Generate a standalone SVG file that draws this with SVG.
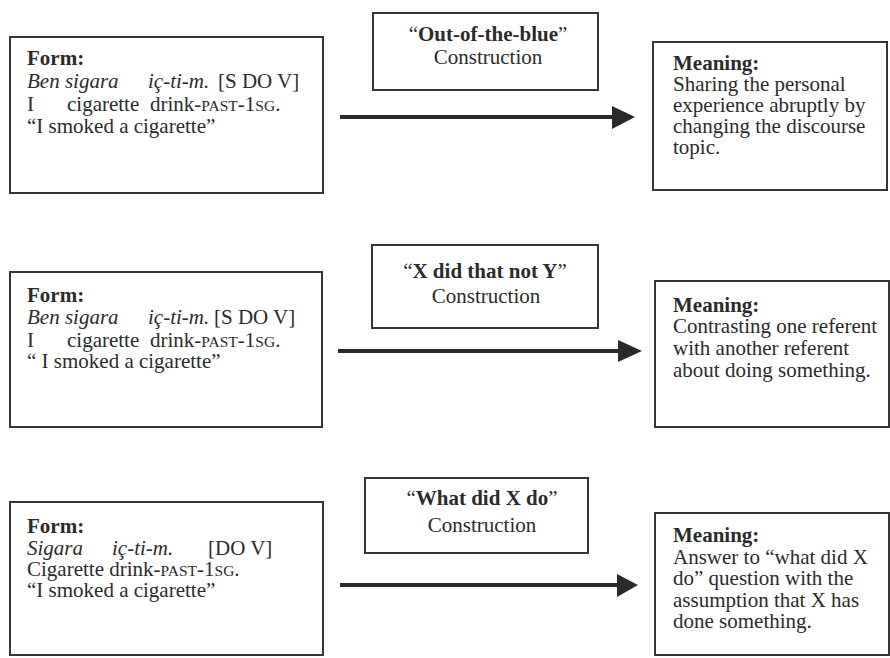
<svg xmlns="http://www.w3.org/2000/svg" width="890" height="658" viewBox="0 0 890 658">
  <style>
    .box { fill: #ffffff; stroke: #363636; stroke-width: 2; }
    text { font-family: "Liberation Serif", "Times New Roman", serif; font-size: 21px; fill: #2b2b2b; }
    .b { font-weight: bold; }
    .i { font-style: italic; }
    .sc { font-size: 15.5px; }
    .mid { text-anchor: middle; }
    .conn line { stroke: #2a2a2a; stroke-width: 4; }
    .conn polygon { fill: #2a2a2a; }
  </style>
  <rect width="890" height="658" fill="#ffffff"/>

  <!-- Row 1: Out-of-the-blue construction -->
  <g id="form1">
    <rect class="box" x="10" y="37" width="313" height="156"/>
    <text x="27" y="65" class="b">Form:</text>
    <text y="88"><tspan x="27" class="i">Ben sigara</tspan><tspan x="148" class="i">iç-ti-m.</tspan><tspan x="218">[S DO V]</tspan></text>
    <text y="111"><tspan x="27">I</tspan><tspan x="67">cigarette</tspan><tspan x="150">drink-</tspan><tspan class="sc">PAST</tspan><tspan>-1</tspan><tspan class="sc">SG</tspan><tspan>.</tspan></text>
    <text x="27" y="133">“I smoked a cigarette”</text>
  </g>
  <g id="construction1">
    <rect class="box" x="373" y="13" width="225" height="77"/>
    <text x="488" y="41" class="mid">“<tspan class="b">Out-of-the-blue</tspan>”</text>
    <text x="488" y="64" class="mid">Construction</text>
  </g>
  <g id="meaning1">
    <rect class="box" x="653" y="42" width="234" height="148"/>
    <text x="673" y="70" class="b">Meaning:</text>
    <text x="673" y="91">Sharing the personal</text>
    <text x="673" y="112">experience abruptly by</text>
    <text x="673" y="133">changing the discourse</text>
    <text x="673" y="154">topic.</text>
  </g>

  <!-- Row 2: X did that not Y construction -->
  <g id="form2">
    <rect class="box" x="10" y="272" width="312" height="155"/>
    <text x="27" y="302" class="b">Form:</text>
    <text y="324"><tspan x="27" class="i">Ben sigara</tspan><tspan x="148" class="i">iç-ti-m.</tspan><tspan x="214">[S DO V]</tspan></text>
    <text y="347"><tspan x="27">I</tspan><tspan x="67">cigarette</tspan><tspan x="150">drink-</tspan><tspan class="sc">PAST</tspan><tspan>-1</tspan><tspan class="sc">SG</tspan><tspan>.</tspan></text>
    <text x="27" y="368">“ I smoked a cigarette”</text>
  </g>
  <g id="construction2">
    <rect class="box" x="372" y="245" width="226" height="83"/>
    <text x="485" y="278" class="mid">“<tspan class="b">X did that not Y</tspan>”</text>
    <text x="486" y="303" class="mid">Construction</text>
  </g>
  <g id="meaning2">
    <rect class="box" x="655" y="281" width="234" height="146"/>
    <text x="673" y="312" class="b">Meaning:</text>
    <text x="673" y="333">Contrasting one referent</text>
    <text x="673" y="355">with another referent</text>
    <text x="673" y="377">about doing something.</text>
  </g>

  <!-- Row 3: What did X do construction -->
  <g id="form3">
    <rect class="box" x="10" y="502" width="313" height="153"/>
    <text x="27" y="533" class="b">Form:</text>
    <text y="555"><tspan x="27" class="i">Sigara</tspan><tspan x="112" class="i">iç-ti-m.</tspan><tspan x="208">[DO V]</tspan></text>
    <text y="576"><tspan x="27">Cigarette drink-</tspan><tspan class="sc">PAST</tspan><tspan>-1</tspan><tspan class="sc">SG</tspan><tspan>.</tspan></text>
    <text x="27" y="597">“I smoked a cigarette”</text>
  </g>
  <g id="construction3">
    <rect class="box" x="365" y="478" width="223" height="75"/>
    <text x="482" y="505" class="mid">“<tspan class="b">What did X do</tspan>”</text>
    <text x="482" y="532" class="mid">Construction</text>
  </g>
  <g id="meaning3">
    <rect class="box" x="655" y="513" width="234" height="142"/>
    <text x="673" y="542" class="b">Meaning:</text>
    <text x="673" y="563.5">Answer to “what did X</text>
    <text x="673" y="585">do” question with the</text>
    <text x="673" y="606.5">assumption that X has</text>
    <text x="673" y="628">done something.</text>
  </g>

  <!-- Form to meaning arrows -->
  <g id="connectors" class="conn">
    <line x1="340" y1="117" x2="614" y2="117"/>
    <polygon points="612,106 635,117 612,129"/>
    <line x1="338" y1="351" x2="620" y2="351"/>
    <polygon points="618,340 642,351 618,362"/>
    <line x1="340" y1="585" x2="619" y2="585"/>
    <polygon points="617,574 638,585 617,597"/>
  </g>
</svg>
